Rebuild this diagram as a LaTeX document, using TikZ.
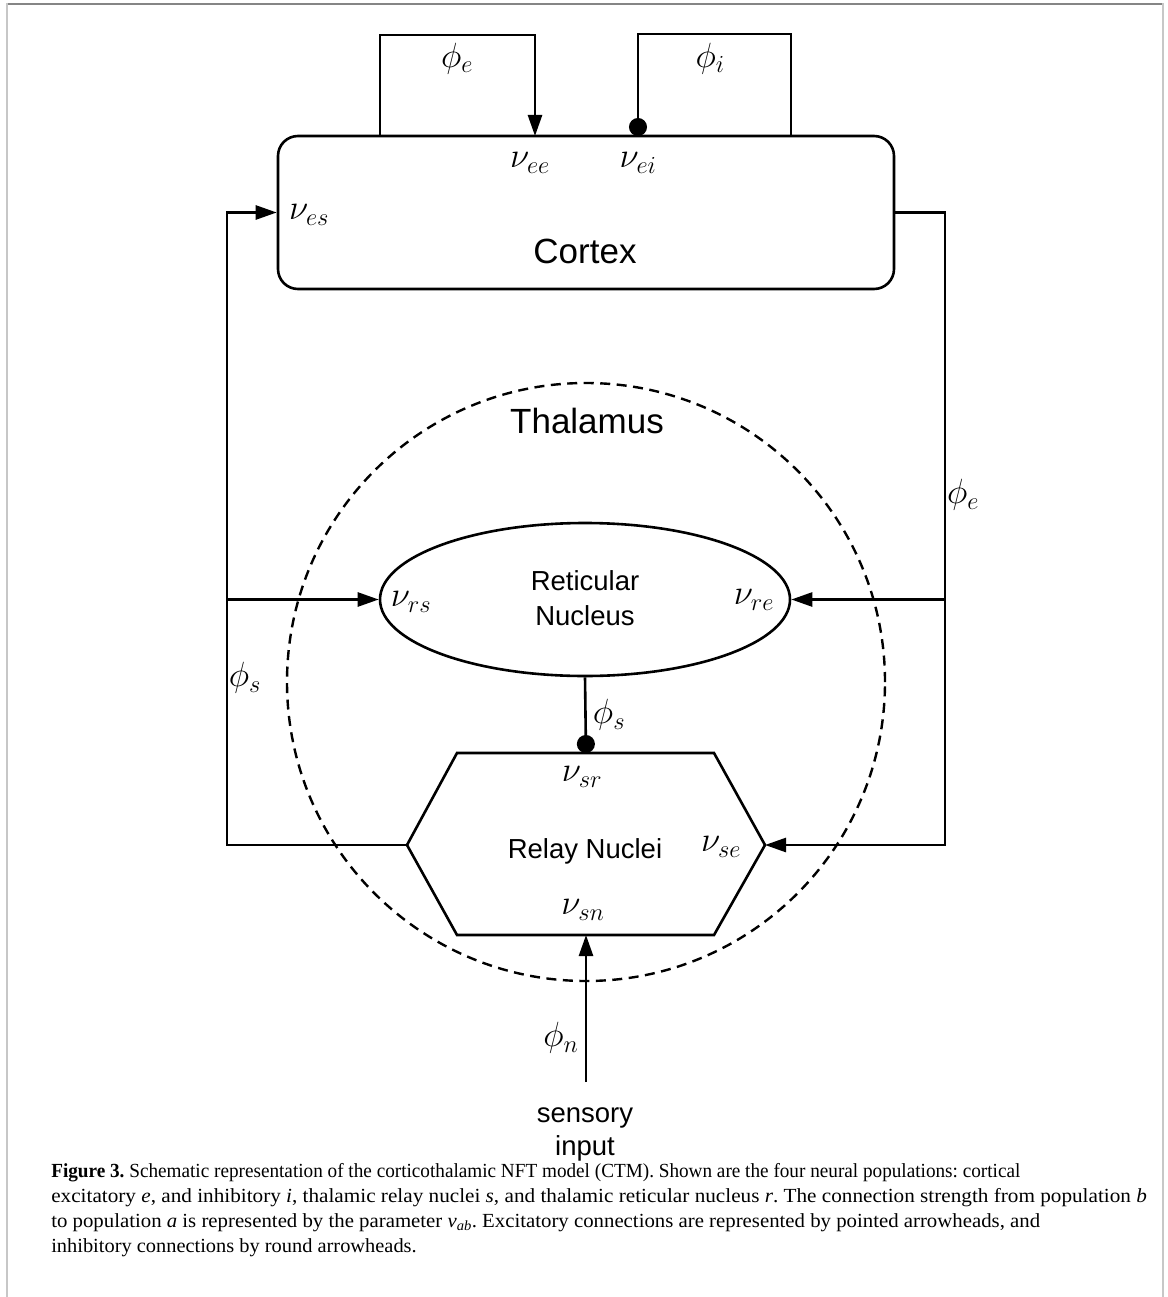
\RequirePackage{fix-cm}
\documentclass[tikz,border=0pt]{standalone}
\usepackage{fontspec}
\setmainfont{Liberation Serif}
\setsansfont{Liberation Sans}
\usetikzlibrary{arrows.meta,shapes.geometric}
\begin{document}
\begin{tikzpicture}[x=1pt,y=-1pt,
  line width=2.6pt,
  wire/.style={line width=2.6pt, line join=miter},
  excit/.style={wire,-{Triangle[length=21pt,width=14pt]}},
  inhib/.style={wire,-{Circle[length=18pt]}},
  bigtxt/.style={font=\sffamily\fontsize{35}{42}\selectfont, inner sep=0pt},
  smalltxt/.style={font=\sffamily\fontsize{27.5}{33}\selectfont, inner sep=0pt},
  lbl/.style={font=\fontsize{35}{42}\selectfont, inner sep=0pt},
  captxt/.style={font=\fontsize{20}{25}\selectfont\frenchspacing, anchor=base west, inner sep=0pt},
  framev/.style={draw=black!22, line width=2.5pt},
  frameh/.style={draw=black!48, line width=1.8pt},
]
\useasboundingbox (0,0) rectangle (1167,1297);
% page frame
\draw[frameh] (6,4) -- (1164,4);
\draw[framev] (7,3) -- (7,1297);
\draw[framev] (1163,3) -- (1163,1297);

% cortex
\node[draw, rounded corners=20pt, minimum width=616pt, minimum height=153pt, inner sep=0pt] (cortex) at (586,212.5) {};
\node[bigtxt, anchor=base] (cortexlbl) at (585,263) {Cortex};

% thalamus
\node[draw, circle, minimum size=598pt, inner sep=0pt, line width=2.4pt, dash pattern=on 10pt off 6.5pt] (thal) at (586,682) {};
\node[bigtxt, anchor=base] (thallbl) at (587,433) {Thalamus};

% reticular nucleus
\node[draw, ellipse, minimum width=410pt, minimum height=153pt, inner sep=0pt] (ret) at (585,599.5) {};
\node[smalltxt, anchor=base] (retl1) at (585,590) {Reticular};
\node[smalltxt, anchor=base] (retl2) at (585,625) {Nucleus};

% relay nuclei hexagon
\coordinate (hTL) at (457,753);
\coordinate (hTR) at (714,753);
\coordinate (hR) at (765,845);
\coordinate (hBR) at (714,935);
\coordinate (hBL) at (457,935);
\coordinate (hL) at (407,845);
\coordinate (hTop) at (586,753);
\coordinate (hBot) at (586,935);
\draw[wire] (hTL) -- (hTR) -- (hR) -- (hBR) -- (hBL) -- (hL) -- cycle;
\node[smalltxt, anchor=base] (rellbl) at (585,858) {Relay Nuclei};

% sensory input
\node[smalltxt, anchor=base] (sens1) at (585,1122) {sensory};
\node[smalltxt, anchor=base] (sens2) at (585,1155) {input};
\coordinate (sensin) at (586,1082);

% connectors
\coordinate (pe1) at (380,136);
\coordinate (pe2) at (535,136);
\coordinate (pi1) at (791,136);
\coordinate (pi2) at (638,136);
\draw[excit] (pe1) -- (380,35) -- (535,35) -- (pe2);
\draw[inhib] (pi1) -- (791,34) -- (638,34) -- (pi2);
\draw[excit] (hL) -- (227,845) -- (227,212.5) -- (cortex.west);
\draw[excit] (227,599.5) -- (ret.west);
\draw[excit] (cortex.east) -- (945,212.5) -- (945,845) -- (hR);
\draw[excit] (945,599.5) -- (ret.east);
\draw[inhib] (ret.south) -- (hTop);
\draw[excit] (sensin) -- (hBot);

% labels
\node[lbl] (lphie) at (457,59) {$\phi_e$};
\node[lbl] (lphii) at (710,59) {$\phi_i$};
\node[lbl] (lnuee) at (530,163) {$\nu_{ee}$};
\node[lbl] (lnuei) at (638,163) {$\nu_{ei}$};
\node[lbl] (lnues) at (309,215) {$\nu_{es}$};
\node[lbl] (lphier) at (963,495) {$\phi_e$};
\node[lbl] (lphisl) at (245,678) {$\phi_s$};
\node[lbl] (lnurs) at (411,602) {$\nu_{rs}$};
\node[lbl] (lnure) at (754,600) {$\nu_{re}$};
\node[lbl] (lphism) at (609,715) {$\phi_s$};
\node[lbl] (lnusr) at (582,777) {$\nu_{sr}$};
\node[lbl] (lnuse) at (721,847) {$\nu_{se}$};
\node[lbl] (lnusn) at (583,910) {$\nu_{sn}$};
\node[lbl] (lphin) at (561,1038) {$\phi_n$};

% caption
\node[captxt] (cap1) at (50,1177) {\scalebox{0.96}[1]{\textbf{Figure 3.} Schematic representation of the corticothalamic NFT model (CTM). Shown are the four neural populations: cortical}};
\node[captxt] (cap2) at (50,1202) {\scalebox{1.06}[1]{excitatory \textit{e}, and inhibitory \textit{i}, thalamic relay nuclei \textit{s}, and thalamic reticular nucleus \textit{r}. The connection strength from population \textit{b}}};
\node[captxt] (cap3) at (50,1227) {\scalebox{1.04}[1]{to population \textit{a} is represented by the parameter \textit{ν}\textsubscript{\textit{ab}}. Excitatory connections are represented by pointed arrowheads, and}};
\node[captxt] (cap4) at (50,1252) {\scalebox{1.02}[1]{inhibitory connections by round arrowheads.}};
\end{tikzpicture}
\end{document}
